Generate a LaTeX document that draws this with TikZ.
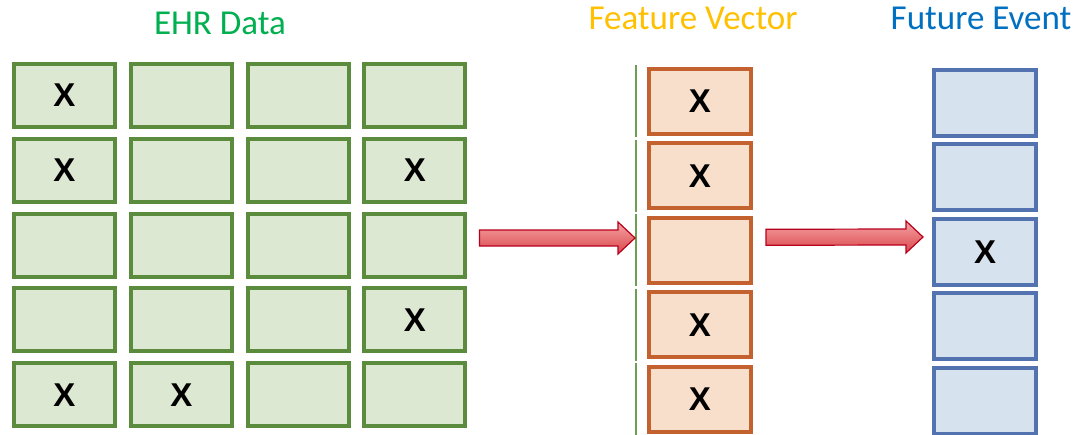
\documentclass[tikz,border=0pt]{standalone}
\usepackage{fontspec}
\setmainfont{Carlito}
\newfontfamily\markfont{Liberation Sans Bold}
\usetikzlibrary{calc}

\definecolor{ehrgreen}{HTML}{00B050}
\definecolor{featorange}{HTML}{FFC000}
\definecolor{eventblue}{HTML}{0070C0}
\definecolor{gline}{HTML}{5B8C3E}
\definecolor{gfill}{HTML}{DDE8D2}
\definecolor{oline}{HTML}{C3622E}
\definecolor{ofill}{HTML}{F8DFCC}
\definecolor{bline}{HTML}{5273B0}
\definecolor{bfill}{HTML}{D6E3EE}
\definecolor{arrowedge}{HTML}{B8001C}
\definecolor{arrowtop}{HTML}{F6A3A3}
\definecolor{arrowbot}{HTML}{D9474C}
\definecolor{sideline}{HTML}{6E9E55}

\tikzset{
  markfnt/.style={font=\markfont\fontsize{33}{33}\selectfont},
  cell/.style={rectangle, line width=4pt, inner sep=0pt, markfnt},
  gcell/.style={cell, draw=gline, fill=gfill, minimum width=101pt, minimum height=63pt},
  ocell/.style={cell, draw=oline, fill=ofill, minimum width=102pt, minimum height=65pt},
  bcell/.style={cell, draw=bline, fill=bfill, minimum width=102pt, minimum height=66pt},
  heading/.style={anchor=base, font=\fontsize{35}{35}\selectfont, inner sep=0pt},
  fatarrow/.style={draw=arrowedge, line width=1.2pt, line join=miter,
    top color=arrowtop, bottom color=arrowbot},
  edgeline/.style={draw=sideline, line width=1.5pt}
}

% wide block arrow between two named points
\newcommand\blockarrow[2]{%
  \path[fatarrow] ($(#1)+(0,-8)$) -- ($(#2)+(-17,-8)$) -- ($(#2)+(-17,-16)$)
    -- (#2) -- ($(#2)+(-17,16)$) -- ($(#2)+(-17,8)$) -- ($(#1)+(0,8)$) -- cycle;}

\begin{document}
\begin{tikzpicture}[x=1pt,y=-1pt]
  \useasboundingbox[fill=white] (0,0) rectangle (1080,435);

  % headings
  \node[heading, text=ehrgreen]   (hehr)  at (220,35) {EHR Data};
  \node[heading, text=featorange] (hfeat) at (693,30) {Feature Vector};
  \node[heading, text=eventblue]  (hevt)  at (981,30) {Future Event};

  % EHR data grid: 5 rows x 4 columns
  \foreach \r in {1,...,5} {
    \foreach \c in {1,...,4} {
      \node[gcell] (g\r\c) at ({64.5+116.8*(\c-1)},{95.5+74.8*(\r-1)}) {};
    }
  }
  \node[markfnt] (x11) at (g11) {X};
  \node[markfnt] (x21) at (g21) {X};
  \node[markfnt] (x24) at (g24) {X};
  \node[markfnt] (x44) at (g44) {X};
  \node[markfnt] (x51) at (g51) {X};
  \node[markfnt] (x52) at (g52) {X};

  % feature vector column
  \node[ocell] (f1) at (700,101.5) {X};
  \node[ocell] (f2) at (700,175.9) {X};
  \node[ocell] (f3) at (700,250.3) {};
  \node[ocell] (f4) at (700,324.7) {X};
  \node[ocell] (f5) at (700,399.1) {X};

  % thin green rule beside the feature vector
  \foreach \i in {1,...,5} {
    \draw[edgeline] (636,{101.5+74.4*(\i-1)-36}) -- (636,{101.5+74.4*(\i-1)+36});
  }

  % future event column
  \node[bcell] (e1) at (985,103) {};
  \node[bcell] (e2) at (985,177.5) {};
  \node[bcell] (e3) at (985,252) {X};
  \node[bcell] (e4) at (985,326.5) {};
  \node[bcell] (e5) at (985,401) {};

  % arrows
  \coordinate (a1s) at ($(g34.east)+(12,-7)$);
  \coordinate (a1e) at (635,238);
  \coordinate (a2s) at ($(f3.east)+(13,-13)$);
  \coordinate (a2e) at (923,237);
  \blockarrow{a1s}{a1e}
  \blockarrow{a2s}{a2e}
\end{tikzpicture}
\end{document}
